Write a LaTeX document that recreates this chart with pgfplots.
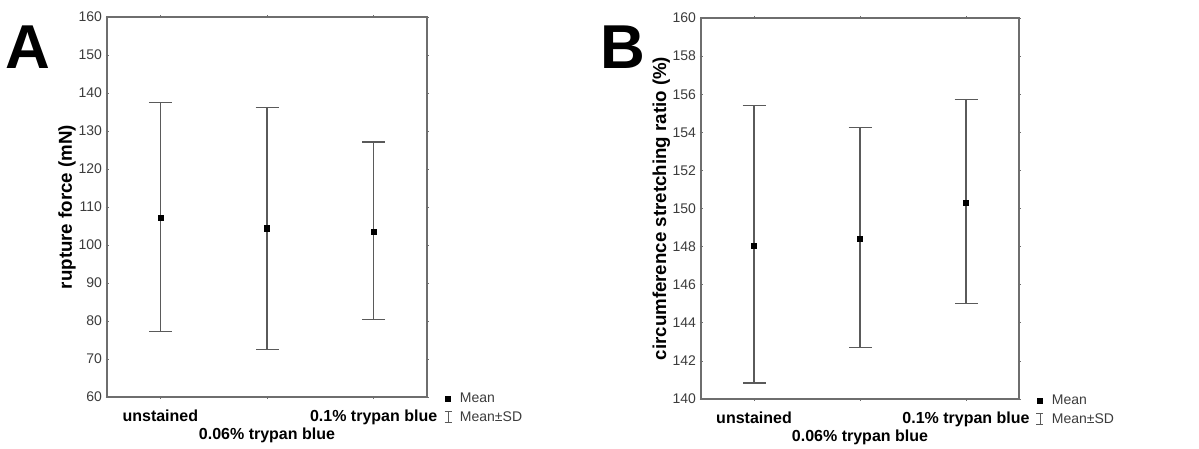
\documentclass[border=0pt]{standalone}
\usepackage{fontspec}
\setmainfont{Liberation Sans}
\usepackage{pgfplots}
\pgfplotsset{compat=1.18}

\definecolor{framegray}{HTML}{6E6E6E}
\definecolor{bargray}{HTML}{5A5A5A}
\definecolor{txtgray}{HTML}{3C3C3C}

\pgfplotsset{
  panel/.style={
    scale only axis,
    axis line style={framegray, line width=1.2pt},
    xmin=-0.5, xmax=2.5,
    xtick={0,1,2},
    xticklabels={unstained,,0.1\% trypan blue},
    extra x ticks={1},
    extra x tick labels={0.06\% trypan blue},
    extra x tick style={xticklabel style={yshift=-18pt}},
    x tick label style={font=\fontsize{16}{16}\selectfont\bfseries, text=black, yshift=-8pt},
    y tick label style={font=\fontsize{14}{14}\selectfont, text=txtgray},
    /pgf/number format/assume math mode=true,
    tick style={framegray, line width=0.8pt},
    major tick length=3pt,
    tick align=center,
    ylabel style={font=\fontsize{18.7}{18.7}\selectfont\bfseries,
      at={(axis description cs:-0.125,0.5)}, anchor=center},
    legend style={at={(axis description cs:1.053,0.016)}, anchor=north west,
      draw=none, fill=none, font=\fontsize{14}{14}\selectfont,
      text=txtgray, row sep=3pt, column sep=6pt, inner sep=0pt},
    legend cell align=left,
    error bars/y dir=both, error bars/y explicit,
    error bars/error bar style={bargray, line width=1.1pt},
    error bars/error mark options={rotate=90, mark size=11.5pt, bargray, line width=1.1pt},
  },
  sdimage/.style={legend image code/.code={
    \draw[bargray, line width=0.8pt] (0.3cm,-5.5pt)--(0.3cm,5.5pt)
      (0.3cm-3.5pt,-5.5pt)--(0.3cm+3.5pt,-5.5pt)
      (0.3cm-3.5pt,5.5pt)--(0.3cm+3.5pt,5.5pt);}},
}

\begin{document}
\begin{tikzpicture}
\useasboundingbox (0,0) rectangle (1199pt,448pt);

\node[font=\fontsize{62}{62}\selectfont\bfseries] at (28pt,401pt) {A};
\node[font=\fontsize{62}{62}\selectfont\bfseries] at (623pt,401pt) {B};

% A: rupture force
\begin{axis}[panel, at={(107pt,51pt)}, anchor=south west,
    width=320pt, height=380pt,
    ymin=60, ymax=160, ytick distance=10,
    ylabel={rupture force (mN)}]
\addplot[only marks, mark=square*, mark size=2.6pt, black]
  table[x=x, y=y, y error plus=ep, y error minus=em] {
x y ep em
0 107.1 30.5 29.9
1 104.4 31.9 31.8
2 103.4 23.7 23.0
};
\addlegendentry{Mean}
\addlegendimage{sdimage}
\addlegendentry{Mean±SD}
\end{axis}

% B: circumference stretching ratio
\begin{axis}[panel, at={(701pt,49pt)}, anchor=south west,
    width=318pt, height=381pt,
    ymin=140, ymax=160, ytick distance=2,
    ylabel={circumference stretching ratio (\%)}]
\addplot[only marks, mark=square*, mark size=2.6pt, black]
  table[x=x, y=y, y error plus=ep, y error minus=em] {
x y ep em
0 148.05 7.34 7.21
1 148.41 5.82 5.73
2 150.32 5.42 5.31
};
\addlegendentry{Mean}
\addlegendimage{sdimage}
\addlegendentry{Mean±SD}
\end{axis}
\end{tikzpicture}
\end{document}
